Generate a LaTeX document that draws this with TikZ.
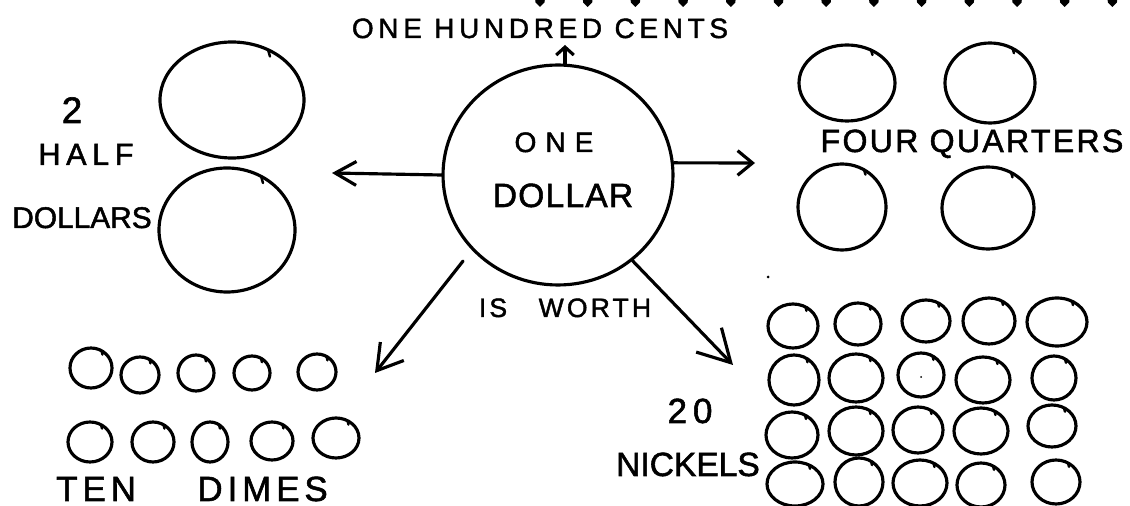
\documentclass[tikz,border=0pt]{standalone}
\usepackage{fontspec}
\setmainfont{Liberation Sans}
\usetikzlibrary{arrows.meta,shapes.geometric}
\newcommand\fsz[2]{\fontsize{#1}{#1}\selectfont\addfontfeature{LetterSpace=#2,FakeBold=1.6}}
\begin{document}
\begin{tikzpicture}[x=0.02cm,y=-0.02cm,
  ink/.style={line width=1.8pt, line cap=round, line join=round},
  coin/.style={ink},
  tick/.style={line width=1.4pt, line cap=round},
  lbl/.style={inner sep=0pt, anchor=base},
  arr/.style 2 args={ink, -{Straight Barb[length=#1, width=#2]}}]
\fill[white] (0,0) rectangle (1130,506);
\useasboundingbox (0,0) rectangle (1130,506);

% top border marks
\foreach \i in {0,...,12}
  \fill[shift={({540+47.7*\i},0)}] (-5,-2) -- (5,-2) -- (4.5,2.5) -- (0,7) -- (-4.5,2.5) -- cycle;

% central coin
\node[ellipse, draw, ink, minimum width=4.6cm, minimum height=4.4cm, inner sep=0pt] (dollar) at (558,175) {};
\node[lbl, font=\fsz{16}{32}] (one) at (554,152) {ONE};
\node[lbl, font=\fsz{19.1}{3.6}] (dollartxt) at (563,207) {DOLLAR};
\node[lbl, font=\fsz{15.1}{12}] (worth) at (565,317) {IS\hspace{18pt}WORTH};

% top label
\node[lbl, font=\fsz{15.9}{16.8}] (cents) at (540,38) {ONE HUNDRED CENTS};
\coordinate (centstip) at (565,45);
\draw[arr={4.5pt}{10pt}] (dollar.north -| centstip) -- (centstip);

% half dollars
\foreach \x/\y/\a/\b in {232/100/72/58, 227/230/68/62}{
  \draw[coin] (\x,\y) ellipse [x radius=\a, y radius=\b];
  \draw[tick] ({\x+\a*0.5},{\y-\b*0.87}) -- ++(2,7);}
\node[lbl, font=\fsz{21}{0}] (two) at (72,123) {2};
\node[lbl, font=\fsz{17.5}{18}] (halftxt) at (86,165) {HALF};
\node[lbl, font=\fsz{17}{0}] (dollarstxt) at (82,228) {DOLLARS};
\coordinate (halftip) at (332,173);
\draw[arr={12pt}{13.6pt}] (dollar.west) -- (halftip);

% quarters
\foreach \x/\y/\a/\b in {847/83/48/38, 990/83/45/40, 842/207/44/43, 988/208/46/41}{
  \draw[coin] (\x,\y) ellipse [x radius=\a, y radius=\b];
  \draw[tick] ({\x+\a*0.5},{\y-\b*0.87}) -- ++(1.5,5);}
\node[lbl, font=\fsz{18.3}{7}] (quarters) at (972,152) {FOUR QUARTERS};
\coordinate (quartertip) at (755,163);
\draw[arr={8.5pt}{14pt}] (dollar.6) -- (quartertip);

% dimes
\foreach \x/\y/\a/\b in {91/368/21/20,140/375/19/18,196/373/18/18,252/373/18/17,317/372/19/18,
  90/442/22/20,153/442/21/20,210/442/18/20,272/441/21/19,336/438/23/20}{
  \draw[coin] (\x,\y) ellipse [x radius=\a, y radius=\b];
  \draw[tick] ({\x+\a*0.5},{\y-\b*0.87}) -- ++(1,4);}
\node[lbl, font=\fsz{19.9}{14}] (dimes) at (192,501) {TEN\hspace{35pt}DIMES};
\coordinate (dimestip) at (375,373);
\draw[arr={14pt}{17pt}, shorten <=0.28cm] (dollar.221) -- (dimestip);

% nickels
\foreach \x/\y/\a/\b in {793/326/25/22,858/324/23/21,926/321/24/21,989/321/26/23,1057/322/30/24,
  794/380/25/25,856/378/27/24,921/375/23/22,983/380/27/23,1054/378/22/22,
  792/435/26/23,856/431/27/24,918/430/25/23,981/431/27/23,1052/426/24/21,
  795/484/28/22,859/482/24/24,920/483/27/23,981/485/24/22,1056/482/24/22}{
  \draw[coin] (\x,\y) ellipse [x radius=\a, y radius=\b];
  \draw[tick] ({\x+\a*0.5},{\y-\b*0.87}) -- ++(1,4);}
\node[lbl, font=\fsz{19.9}{17}] (twenty) at (690,423) {20};
\node[lbl, font=\fsz{19.1}{0}] (nickels) at (688,476) {NICKELS};
\coordinate (nickeltip) at (733,365);
\draw[arr={18pt}{20pt}] (dollar.311) -- (nickeltip);

% specks
\fill (768,277) circle [radius=1.5];
\fill (921,377) circle [radius=1];
\end{tikzpicture}
\end{document}
